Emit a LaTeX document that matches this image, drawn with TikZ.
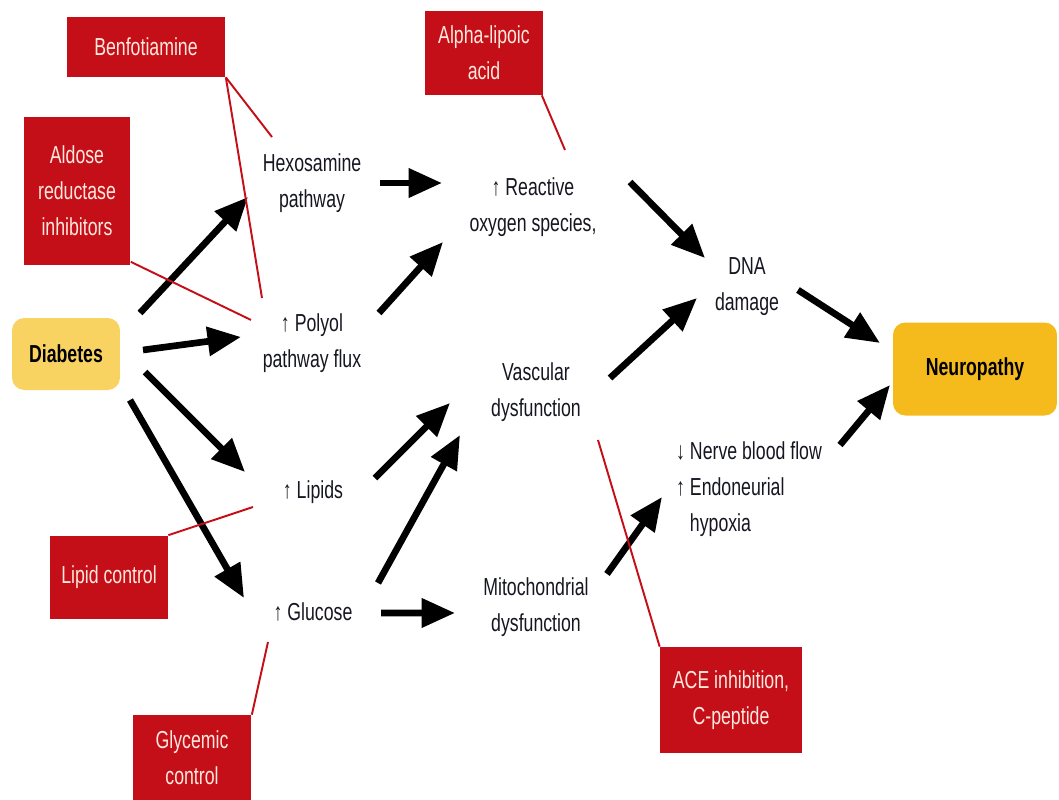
\documentclass[tikz,border=0pt]{standalone}
\usepackage{fontspec}
\setmainfont{Liberation Sans}[FakeStretch=0.72]
\usetikzlibrary{calc}
\usetikzlibrary{positioning}
\usetikzlibrary{arrows.meta}

\definecolor{drugred}{RGB}{196,14,24}
\definecolor{drugtext}{RGB}{255,232,222}
\definecolor{diabyellow}{RGB}{249,211,98}
\definecolor{neuroyellow}{RGB}{245,186,28}
\definecolor{mechtext}{RGB}{22,22,34}

\begin{document}
\begin{tikzpicture}[x=0.02cm,y=-0.02cm,>={Triangle[length=19pt,width=16pt]},on grid,
	font=\fontsize{14}{20.4}\selectfont,
	drug/.style={fill=drugred, text=drugtext, align=center, inner sep=0pt},
	mech/.style={text=mechtext, align=center},
	ends/.style={rounded corners=7pt, text=black, font=\fontsize{14}{20.4}\selectfont\bfseries},
	arr/.style={->, line width=3.8pt},
	inhib/.style={draw=drugred, line width=1.1pt},
	]
	\useasboundingbox (0,0) rectangle (1059,799);

	% end points
	\node[ends, fill=diabyellow, minimum width=2.16cm, minimum height=1.44cm] (diab) at (66,354) {Diabetes};
	\node[ends, fill=neuroyellow, minimum width=3.28cm, minimum height=1.86cm] (neuro) at (975,369) {Neuropathy};

	% mechanisms
	\node[mech] (hex) at (312,183) {Hexosamine\\pathway};
	\node[mech, below = 3.2cm of hex] (poly) {↑ Polyol\\pathway flux};
	\node[mech] (lip) at (313,492) {↑ Lipids};
	\node[mech, below = 2.4cm of lip] (glu) {↑ Glucose};
	\node[mech] (ros) at (533,207) {↑ Reactive\\oxygen species,};
	\node[mech] (vasc) at (536,392) {Vascular\\dysfunction};
	\node[mech, below = 4.3cm of vasc] (mito) {Mitochondrial\\dysfunction};
	\node[mech] (dna) at (747,287) {DNA\\damage};
	\node[mech, anchor=west, align=left] (nerve) at (670,489) {↓ Nerve blood flow\\↑ Endoneurial\\\phantom{↑ }hypoxia};

	% treatments
	\node[drug, minimum width=3.18cm, minimum height=1.2cm] (benf) at (146,47) {Benfotiamine};
	\node[drug, minimum width=2.14cm, minimum height=2.98cm] (aldose) at (77,191) {Aldose\\reductase\\inhibitors};
	\node[drug, minimum width=2.38cm, minimum height=1.68cm] (alpha) at (484,53) {Alpha-lipoic\\acid};
	\node[drug, minimum width=2.36cm, minimum height=1.66cm] (lipc) at (109,577) {Lipid control};
	\node[drug, minimum width=2.38cm, minimum height=1.72cm] (glyc) at (192,758) {Glycemic\\control};
	\node[drug, minimum width=2.84cm, minimum height=2.12cm] (ace) at (731,700) {ACE inhibition,\\C-peptide};

	\draw[arr] ($(diab)+(74,-41)$) -- ($(hex)+(-64,14)$);
	\draw[arr] ($(diab)+(77,-4)$) -- ($(poly)+(-71,-6)$);
	\draw[arr] ($(diab)+(79,18)$) -- ($(lip)+(-68,-20)$);
	\draw[arr] ($(diab)+(64,46)$) -- ($(glu)+(-69,-14)$);
	\draw[arr] ($(hex)+(68,0)$) -- ($(ros)+(-91,-24)$);
	\draw[arr] ($(poly)+(67,-30)$) -- ($(ros)+(-90,35)$);
	\draw[arr] ($(lip)+(62,-14)$) -- ($(vasc)+(-86,11)$);
	\draw[arr] ($(glu)+(65,-29)$) -- ($(vasc)+(-76,43)$);
	\draw[arr] ($(glu)+(68,1)$) -- ($(mito)+(-81,6)$);
	\draw[arr] ($(ros)+(97,-25)$) -- ($(dna)+(-42,-29)$);
	\draw[arr] ($(vasc)+(74,-14)$) -- ($(dna)+(-50,11)$);
	\draw[arr] ($(dna)+(51,3)$) -- ($(neuro)+(-95,-26)$);
	\draw[arr] ($(mito)+(71,-33)$) -- ($(nerve.west)+(-8,8)$);
	\draw[arr] ($(nerve.west)+(170,-44)$) -- ($(neuro)+(-85,16)$);

	\draw[inhib] (benf.south east) -- ($(hex)+(-40,-46)$);
	\draw[inhib] (benf.south east) -- ($(poly)+(-50,-45)$);
	\draw[inhib] ($(aldose.south east)+(0,-4)$) -- ($(poly)+(-61,-23)$);
	\draw[inhib] ($(alpha.south east)+(-2,0)$) -- ($(ros)+(32,-57)$);
	\draw[inhib] (lipc.north east) -- ($(lip)+(-60,15)$);
	\draw[inhib] (glyc.north east) -- ($(glu)+(-45,30)$);
	\draw[inhib] (ace.north west) -- ($(vasc)+(62,48)$);
\end{tikzpicture}
\end{document}
